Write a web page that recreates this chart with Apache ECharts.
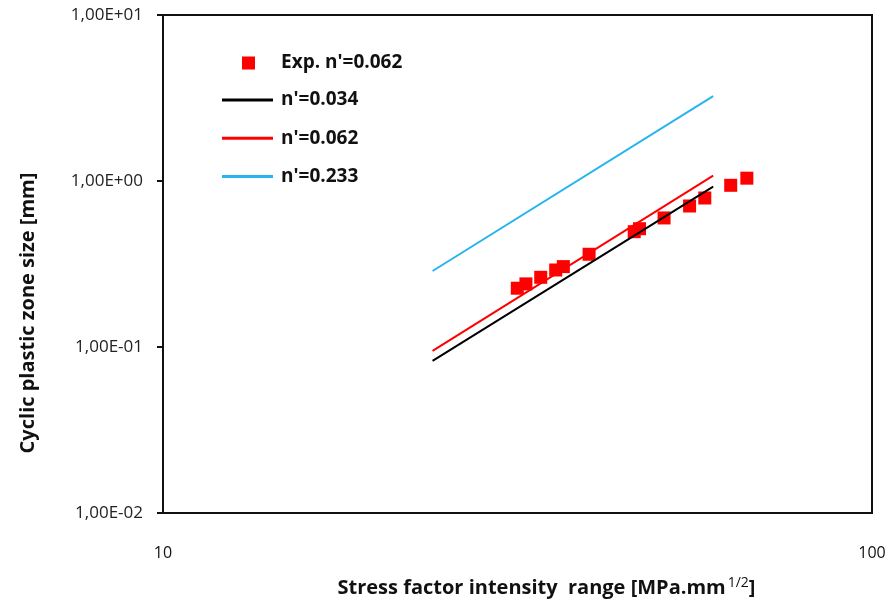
<!DOCTYPE html>
<html>
<head>
<meta charset="utf-8">
<script src="https://cdn.jsdelivr.net/npm/echarts@6/dist/echarts.min.js"></script>
<style>
html,body{margin:0;padding:0;background:#fff;}
#chart{width:891px;height:607px;}
</style>
</head>
<body>
<div id="chart"></div>
<script>
// Experimental points
const expX = [31.6, 32.5, 34.1, 35.8, 36.7, 39.9, 46.2, 47.0, 50.9, 55.3, 58.1, 63.2, 66.6];
const expY = [0.226, 0.240, 0.263, 0.291, 0.305, 0.362, 0.495, 0.516, 0.599, 0.707, 0.790, 0.942, 1.04];
// Model lines (start/end)
const lineX = [24.0, 59.7];
const line034 = [0.0824, 0.924];
const line062 = [0.0947, 1.076];
const line233 = [0.287, 3.25];
// Axis ranges
const xRange = [10, 100];
const yRange = [0.01, 10];
const names = ["Exp. n'=0.062", "n'=0.034", "n'=0.062", "n'=0.233"];

const FONT = 'Open Sans';
function pairs(xs, ys){ return xs.map((x,i)=>[x, ys[i]]); }
function sciFmt(v){
  const e = Math.round(Math.log10(v));
  const m = (v / Math.pow(10, e)).toFixed(2).replace('.', ',');
  const s = e < 0 ? '-' : '+';
  const a = Math.abs(e);
  return m + 'E' + s + (a < 10 ? '0' + a : '' + a);
}

const chart = echarts.init(document.getElementById('chart'));
chart.setOption({
  animation: false,
  backgroundColor: '#fff',
  grid: {left: 163, right: 19, top: 15, bottom: 94, show: true, borderColor: '#111', borderWidth: 2, backgroundColor: 'transparent'},
  legend: [
    {
      data: [names[0]], left: 242, top: 53, padding: 0,
      itemWidth: 13, itemHeight: 13,
      textStyle: {fontFamily: FONT, fontWeight: 'bold', fontSize: 19, color: '#111', padding: [0,0,0,21], lineHeight: 20}
    },
    {
      data: [
        {name: names[1], icon: 'rect'},
        {name: names[2], icon: 'rect'},
        {name: names[3], icon: 'rect'}
      ],
      orient: 'vertical', left: 222, top: 90, padding: 0,
      itemWidth: 51, itemHeight: 3, itemGap: 18.2,
      textStyle: {fontFamily: FONT, fontWeight: 'bold', fontSize: 19, color: '#111', padding: [0,0,0,3], lineHeight: 20}
    }
  ],
  xAxis: {
    type: 'log', logBase: 10, min: xRange[0], max: xRange[1],
    name: 'Stress factor intensity  range [MPa.mm{sup|1/2}]',
    nameLocation: 'middle', nameGap: 63,
    nameTextStyle: {fontFamily: FONT, fontWeight: 'bold', fontSize: 20, color: '#111', padding: [0,0,0,58],
      rich: {sup: {fontFamily: FONT, fontWeight: 'normal', fontSize: 14, color: '#111', padding: [0,0,11,2]}}},
    axisLine: {show: true, lineStyle: {color: '#111', width: 2}},
    axisTick: {show: false},
    splitLine: {show: false},
    minorTick: {show: false},
    axisLabel: {fontFamily: FONT, fontSize: 16, color: '#111', margin: 32}
  },
  yAxis: {
    type: 'log', logBase: 10, min: yRange[0], max: yRange[1],
    name: 'Cyclic plastic zone size [mm]',
    nameLocation: 'middle', nameGap: 125, nameRotate: 90,
    nameTextStyle: {fontFamily: FONT, fontWeight: 'bold', fontSize: 20, color: '#111', padding: [0,98,0,0]},
    axisLine: {show: true, lineStyle: {color: '#111', width: 2}},
    axisTick: {show: true, inside: false, length: 6, lineStyle: {color: '#111', width: 2}},
    splitLine: {show: false},
    axisLabel: {fontFamily: FONT, fontSize: 17, color: '#222', margin: 20, formatter: sciFmt}
  },
  series: [
    {name: names[0], type: 'scatter', symbol: 'rect', symbolSize: 13,
     itemStyle: {color: '#ff0000', opacity: 1}, data: pairs(expX, expY)},
    {name: names[1], type: 'line', symbol: 'none', showSymbol: false,
     lineStyle: {color: '#000000', width: 2}, itemStyle: {color: '#000000'}, data: pairs(lineX, line034)},
    {name: names[2], type: 'line', symbol: 'none', showSymbol: false,
     lineStyle: {color: '#ff0000', width: 2}, itemStyle: {color: '#ff0000'}, data: pairs(lineX, line062)},
    {name: names[3], type: 'line', symbol: 'none', showSymbol: false,
     lineStyle: {color: '#28b4ee', width: 2}, itemStyle: {color: '#28b4ee'}, data: pairs(lineX, line233)}
  ]
});
</script>
</body>
</html>
